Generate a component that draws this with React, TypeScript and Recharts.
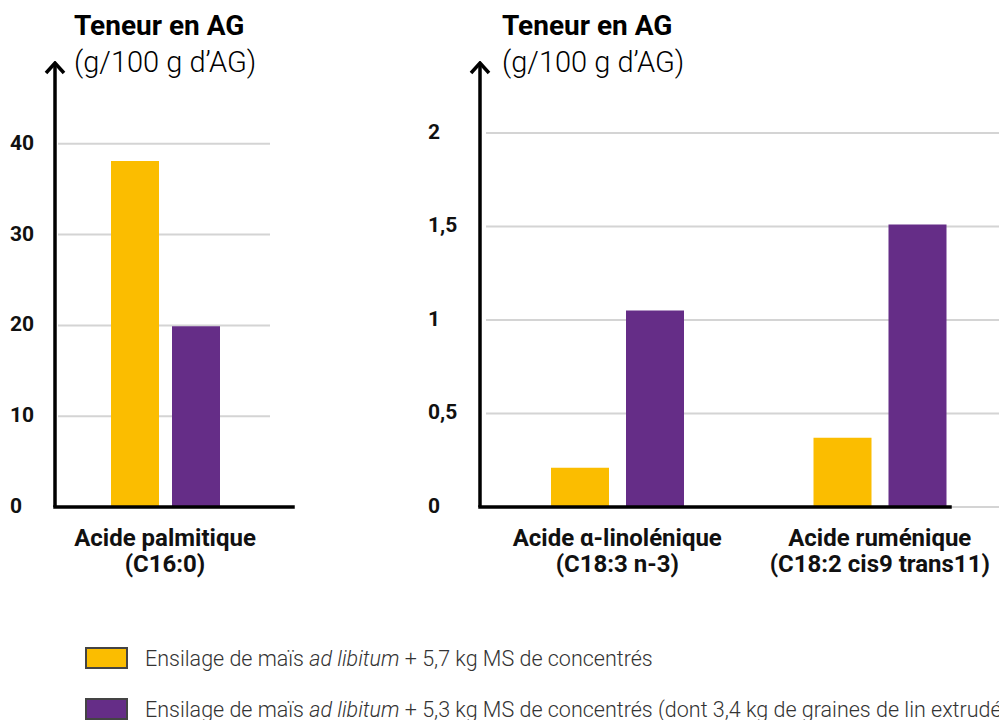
import { BarChart, Bar, XAxis, YAxis, CartesianGrid } from 'recharts'

// Acide palmitique (left panel)
const leftCategories = ['Acide palmitique']
const leftCodes = ['(C16:0)']
const leftMais = [38.1]
const leftLin = [19.9]
const leftTicks = [0, 10, 20, 30, 40]

// Acides α-linolénique et ruménique (right panel)
const rightCategories = ['Acide α-linolénique', 'Acide ruménique']
const rightCodes = ['(C18:3 n-3)', '(C18:2 cis9 trans11)']
const rightMais = [0.21, 0.37]
const rightLin = [1.05, 1.51]
const rightTicks = [0, 0.5, 1, 1.5, 2]

const seriesKeys = ['mais', 'lin']
const seriesColors = ['#FBBD00', '#652D87']
const legendBefore = ['Ensilage de maïs ', 'Ensilage de maïs ']
const legendItalic = ['ad libitum', 'ad libitum']
const legendAfter = [
  ' + 5,7 kg MS de concentrés',
  ' + 5,3 kg MS de concentrés (dont 3,4 kg de graines de lin extrudées)',
]

const titleLine1 = 'Teneur en AG'
const titleLine2 = '(g/100 g d’AG)'

const leftData = leftCategories.map((name, i) => ({
  name,
  code: leftCodes[i],
  mais: leftMais[i],
  lin: leftLin[i],
}))

const rightData = rightCategories.map((name, i) => ({
  name,
  code: rightCodes[i],
  mais: rightMais[i],
  lin: rightLin[i],
}))

const FONT = 'Roboto, sans-serif'

const CategoryTick = (props: any) => {
  const { x, y, payload, codes } = props
  return (
    <g transform={`translate(${x},${y})`}>
      <text textAnchor="middle" fontFamily={FONT} fontWeight={700} fontSize={24} fill="#111">
        <tspan x={0} dy={39}>{payload.value}</tspan>
        <tspan x={0} dy={26}>{codes[payload.index]}</tspan>
      </text>
    </g>
  )
}

const ValueTick = (props: any) => {
  const { y, payload, left } = props
  return (
    <text x={left} y={y} dy={6} fontFamily={FONT} fontWeight={700} fontSize={21} fill="#111">
      {String(payload.value).replace('.', ',')}
    </text>
  )
}

// grid only at the real ticks, not at the top edge of the plot
const gridLine = (startShift: number, endShift: number) => (props: any) => {
  if (Math.abs(props.y1 - props.y) < 1) return <g key={props.key} />
  return (
    <line
      key={props.key}
      x1={props.x1 + startShift}
      y1={props.y1}
      x2={props.x2 + endShift}
      y2={props.y2}
      stroke="#d4d4d4"
      strokeWidth={2}
    />
  )
}

const axisStyle = { stroke: '#000', strokeWidth: 3.5 }

const Title = ({ left }: { left: number }) => (
  <div
    style={{
      position: 'absolute',
      left,
      top: 8,
      zIndex: 2,
      fontFamily: FONT,
      lineHeight: '36px',
      color: '#000',
      whiteSpace: 'nowrap',
    }}
  >
    <div style={{ fontWeight: 700, fontSize: 28 }}>{titleLine1}</div>
    <div style={{ fontWeight: 300, fontSize: 29 }}>{titleLine2}</div>
  </div>
)

export default function App() {
  return (
    <div
      style={{
        position: 'absolute',
        left: 0,
        top: 0,
        width: 999,
        height: 720,
        overflow: 'hidden',
        background: '#fff',
      }}
    >
      <svg width={0} height={0} style={{ position: 'absolute' }}>
        <defs>
          <marker
            id="axisArrow"
            viewBox="0 0 14 22"
            refX="12"
            refY="11"
            markerWidth="14"
            markerHeight="22"
            markerUnits="userSpaceOnUse"
            orient="auto-start-reverse"
          >
            <path d="M2,2 L12,11 L2,20" fill="none" stroke="#000" strokeWidth={3.5} />
          </marker>
        </defs>
      </svg>

      <div style={{ position: 'absolute', left: 0, top: 0 }}>
        <BarChart
          width={300}
          height={600}
          data={leftData}
          margin={{ top: 63, right: 7, bottom: 13, left: 0 }}
          barSize={48}
          barGap={13}
        >
          <CartesianGrid vertical={false} horizontal={gridLine(3, -23)} />
          <XAxis
            dataKey="name"
            interval={0}
            height={80}
            tickLine={false}
            tickSize={0}
            tickMargin={0}
            padding={{ left: 0, right: 18 }}
            axisLine={{ ...axisStyle, strokeLinecap: 'square' }}
            tick={<CategoryTick codes={leftCodes} />}
          />
          <YAxis
            width={55}
            domain={[0, 48.9]}
            ticks={leftTicks}
            tickLine={false}
            axisLine={{ ...axisStyle, markerStart: 'url(#axisArrow)' }}
            tick={<ValueTick left={10} />}
          />
          {seriesKeys.map((k, i) => (
            <Bar key={k} dataKey={k} fill={seriesColors[i]} isAnimationActive={false} />
          ))}
        </BarChart>
      </div>

      <div style={{ position: 'absolute', left: 380, top: 0 }}>
        <BarChart
          width={620}
          height={600}
          data={rightData}
          margin={{ top: 63, right: 50, bottom: 13, left: 0 }}
          barSize={58}
          barGap={17}
        >
          <CartesianGrid vertical={false} horizontal={gridLine(6, 49)} />
          <XAxis
            dataKey="name"
            interval={0}
            height={80}
            tickLine={false}
            tickSize={0}
            tickMargin={0}
            padding={{ left: 6, right: -61 }}
            axisLine={{ ...axisStyle, strokeLinecap: 'square' }}
            tick={<CategoryTick codes={rightCodes} />}
          />
          <YAxis
            width={100}
            domain={[0, 2.374]}
            ticks={rightTicks}
            tickLine={false}
            axisLine={{ ...axisStyle, markerStart: 'url(#axisArrow)' }}
            tick={<ValueTick left={48} />}
          />
          {seriesKeys.map((k, i) => (
            <Bar key={k} dataKey={k} fill={seriesColors[i]} isAnimationActive={false} />
          ))}
        </BarChart>
      </div>

      <Title left={74} />
      <Title left={502} />

      <div style={{ position: 'absolute', left: 85, top: 647 }}>
        {seriesKeys.map((k, i) => (
          <div
            key={k}
            style={{
              display: 'flex',
              alignItems: 'center',
              height: 22,
              marginBottom: 29,
              whiteSpace: 'nowrap',
            }}
          >
            <div
              style={{
                width: 39,
                height: 18,
                background: seriesColors[i],
                border: '2px solid #444',
                marginRight: 17,
                flexShrink: 0,
              }}
            />
            <span style={{ fontFamily: FONT, fontWeight: 300, fontSize: 21.5, color: '#333' }}>
              {legendBefore[i]}
              <i>{legendItalic[i]}</i>
              {legendAfter[i]}
            </span>
          </div>
        ))}
      </div>
    </div>
  )
}
